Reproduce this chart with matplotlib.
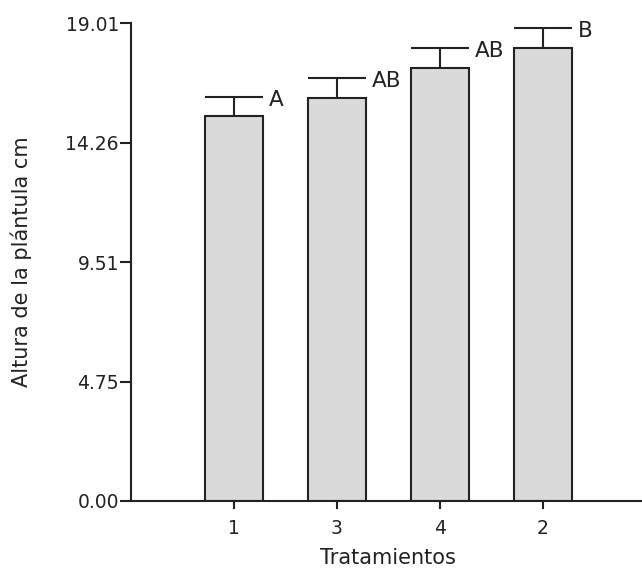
"""Bar chart: seedling height per treatment with Tukey letters."""

import matplotlib

matplotlib.use("Agg")
import matplotlib.pyplot as plt
import numpy as np

# data
tratamientos = ["1", "3", "4", "2"]
altura = [15.32, 16.02, 17.23, 18.01]
error_std = [0.75, 0.80, 0.80, 0.80]
letras = ["A", "AB", "AB", "B"]
y_ticks = [0.00, 4.75, 9.51, 14.26, 19.01]

plt.rcParams["font.family"] = "DejaVu Sans"

fig = plt.figure(figsize=(6.42, 5.71), dpi=100)
ax = fig.add_axes([0.2036, 0.1226, 0.8022, 0.8366])

x = np.arange(1, len(tratamientos) + 1)
width = 0.563
altura = np.array(altura)
error_std = np.array(error_std)
tops = altura + error_std

ax.bar(x, altura, width=width, color="#dadada", edgecolor="#222222", linewidth=1.5, zorder=2)

# error bars: upper half only, cap as wide as the bar
ax.vlines(x, altura, tops, color="#222222", linewidth=1.5, zorder=3)
ax.hlines(tops, x - width / 2, x + width / 2, color="#222222", linewidth=1.5, zorder=3)

for xi, top, letra in zip(x, tops, letras):
    ax.annotate(
        letra,
        xy=(xi + width / 2, top),
        xytext=(4.5, -2),
        textcoords="offset points",
        ha="left",
        va="center",
        fontsize=15.5,
        color="#222222",
    )

ax.set_xlim(0, 5)
ax.set_ylim(0, 19.01)
ax.set_xticks(x)
ax.set_xticklabels(tratamientos)
ax.set_yticks(y_ticks)
ax.set_yticklabels([f"{v:.2f}" for v in y_ticks])

for side in ["top", "right"]:
    ax.spines[side].set_visible(False)
for side in ["left", "bottom"]:
    ax.spines[side].set_linewidth(1.5)
    ax.spines[side].set_color("#222222")

ax.tick_params(axis="both", direction="out", width=1.5, color="#222222", labelsize=13.5, labelcolor="#222222")
ax.tick_params(axis="y", length=8, pad=0.5)
ax.tick_params(axis="x", length=6, pad=7)

ax.set_xlabel("Tratamientos", fontsize=15, color="#222222", labelpad=7.5)
ax.set_ylabel("Altura de la plántula cm", fontsize=15, color="#222222", labelpad=24)

fig.savefig("out.png", dpi=100)
plt.close(fig)
